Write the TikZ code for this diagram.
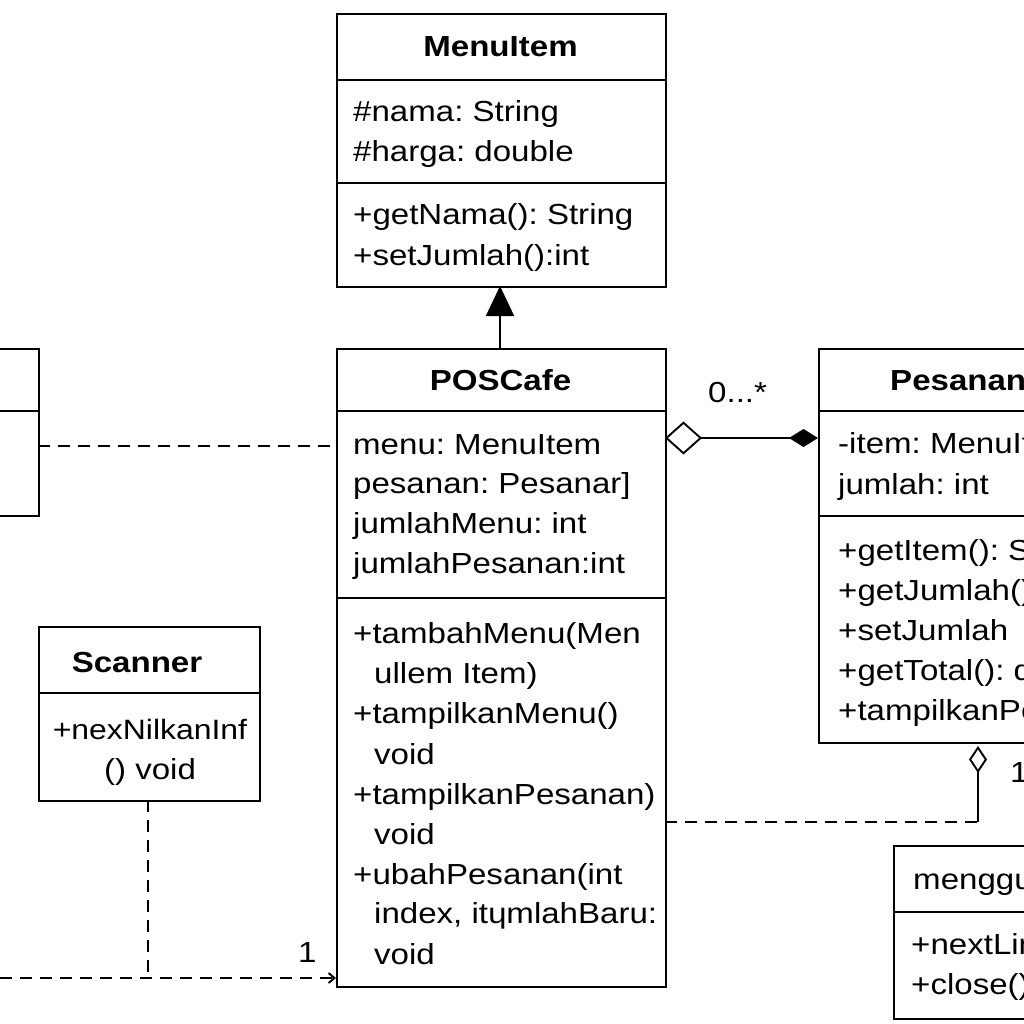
\documentclass[tikz,border=0pt]{standalone}
\usepackage{fontspec}
\setmainfont[FakeStretch=1.14]{Liberation Sans}
\usetikzlibrary{arrows.meta}
\frenchspacing
\tikzset{
  umlbox/.style={draw, line width=1.9pt, fill=white, inner sep=0pt, anchor=north west},
  divider/.style={line width=1.9pt},
  txt/.style={anchor=base west, inner sep=0pt, font=\fontsize{29}{34}\selectfont},
  title/.style={anchor=base, inner sep=0pt, font=\fontsize{29}{34}\selectfont\bfseries},
  conn/.style={line width=1.9pt},
  dashconn/.style={line width=1.9pt, dash pattern=on 12pt off 8pt},
  lbl/.style={inner sep=0pt, anchor=base west, font=\fontsize{29}{34}\selectfont}
}
\begin{document}
\begin{tikzpicture}[x=1pt,y=-1pt]
\useasboundingbox (0,0) rectangle (1024,1024);
\fill[white] (0,0) rectangle (1024,1024);
\clip (0,0) rectangle (1024,1024);

% MenuItem
\node[umlbox, minimum width=329pt, minimum height=273pt] (menuitem) at (336,13) {};
\draw[divider] (336,80) -- (665,80);
\draw[divider] (336,183) -- (665,183);
\node[title] (mi-t) at (500.5,57) {MenuItem};
\node[txt] (mi-a1) at (353,122) {\#nama: String};
\node[txt] (mi-a2) at (353,162) {\#harga: double};
\node[txt] (mi-m1) at (353,225) {+getNama(): String};
\node[txt] (mi-m2) at (353,265) {+setJumlah():int};

% POSCafe
\node[umlbox, minimum width=329pt, minimum height=638pt] (pos) at (336,348) {};
\draw[divider] (336,411) -- (665,411);
\draw[divider] (336,598) -- (665,598);
\node[title] (pos-t) at (500.5,390) {POSCafe};
\node[txt] (pos-a1) at (353,454) {menu: MenuItem};
\node[txt] (pos-a2) at (353,493) {pesanan: Pesanar]};
\node[txt] (pos-a3) at (353,533) {jumlahMenu: int};
\node[txt] (pos-a4) at (353,573) {jumlahPesanan:int};
\node[txt] (pos-m1) at (353,643) {+tambahMenu(Men};
\node[txt] (pos-m2) at (374,683) {ullem Item)};
\node[txt] (pos-m3) at (353,723) {+tampilkanMenu()};
\node[txt] (pos-m4) at (374,764) {void};
\node[txt] (pos-m5) at (353,804) {+tampilkanPesanan)};
\node[txt] (pos-m6) at (374,844) {void};
\node[txt] (pos-m7) at (353,884) {+ubahPesanan(int};
\node[txt] (pos-m8) at (374,923) {index, itɥmlahBaru:};
\node[txt] (pos-m9) at (374,964) {void};

% left cut box
\node[umlbox, minimum width=48pt, minimum height=167pt] (leftbox) at (-10,348) {};
\draw[divider] (-10,411) -- (38,411);

% Pesanan
\node[umlbox, minimum width=220pt, minimum height=394pt] (pesanan) at (818,348) {};
\draw[divider] (818,411) -- (1040,411);
\draw[divider] (818,516) -- (1040,516);
\node[title, anchor=base west] (pe-t) at (890,390) {Pesanan};
\node[txt] (pe-a1) at (838,453) {-item: MenuItem};
\node[txt] (pe-a2) at (838,494) {jumlah: int};
\node[txt] (pe-m1) at (838,560) {+getItem(): String};
\node[txt] (pe-m2) at (838,600) {+getJumlah(): int};
\node[txt] (pe-m3) at (838,640) {+setJumlah};
\node[txt] (pe-m4) at (838,680) {+getTotal(): double};
\node[txt] (pe-m5) at (838,720) {+tampilkanPesanan()};

% Scanner
\node[umlbox, minimum width=221pt, minimum height=174pt] (scanner) at (38,626) {};
\draw[divider] (38,693) -- (259,693);
\node[title] (sc-t) at (137,672) {Scanner};
\node[txt, anchor=base] (sc-m1) at (150,739) {\fontsize{28}{34}\selectfont+nexNilkanInf};
\node[txt, anchor=base] (sc-m2) at (150,779) {() void};

% menggunakan
\node[umlbox, minimum width=150pt, minimum height=173pt] (meng) at (893,845) {};
\draw[divider] (893,912) -- (1043,912);
\node[txt] (me-t) at (913,889) {menggunakan};
\node[txt] (me-m1) at (911,954) {+nextLine(): String};
\node[txt] (me-m2) at (911,994) {+close(): void};

% connectors
\coordinate (posTop) at (500,348);
\coordinate (miBot) at (500,286);
\draw[conn, -{Triangle[length=30pt,width=28pt]}] (posTop) -- (miBot);

\coordinate (leftR) at (38,446);
\coordinate (posL1) at (336,446);
\draw[dashconn] (leftR) -- (posL1);

\coordinate (posR1) at (665,438);
\coordinate (peL1) at (818,438);
\draw[conn, {Diamond[open,length=37pt,width=33pt]}-{Diamond[length=29pt,width=18pt]}] (posR1) -- (peL1);
\node[lbl] (lbl0) at (708,402) {0...*};

\coordinate (scBot) at (148,800);
\coordinate (scCorner) at (148,978);
\coordinate (leftEdge) at (0,978);
\coordinate (posL2) at (336,978);
\draw[dashconn] (scBot) -- (scCorner);
\draw[dashconn, -{Straight Barb[length=6pt,width=10pt]}] (leftEdge) -- (posL2);
\node[lbl] (lbl1) at (298,962) {1};

\coordinate (posR2) at (665,822);
\coordinate (bend) at (978,822);
\coordinate (peBot) at (978,746);
\draw[dashconn] (posR2) -- (bend);
\draw[conn, -{Diamond[open,length=27pt,width=18pt]}] (bend) -- (peBot);
\node[lbl] (lbl2) at (1010,782) {1};
\end{tikzpicture}
\end{document}
